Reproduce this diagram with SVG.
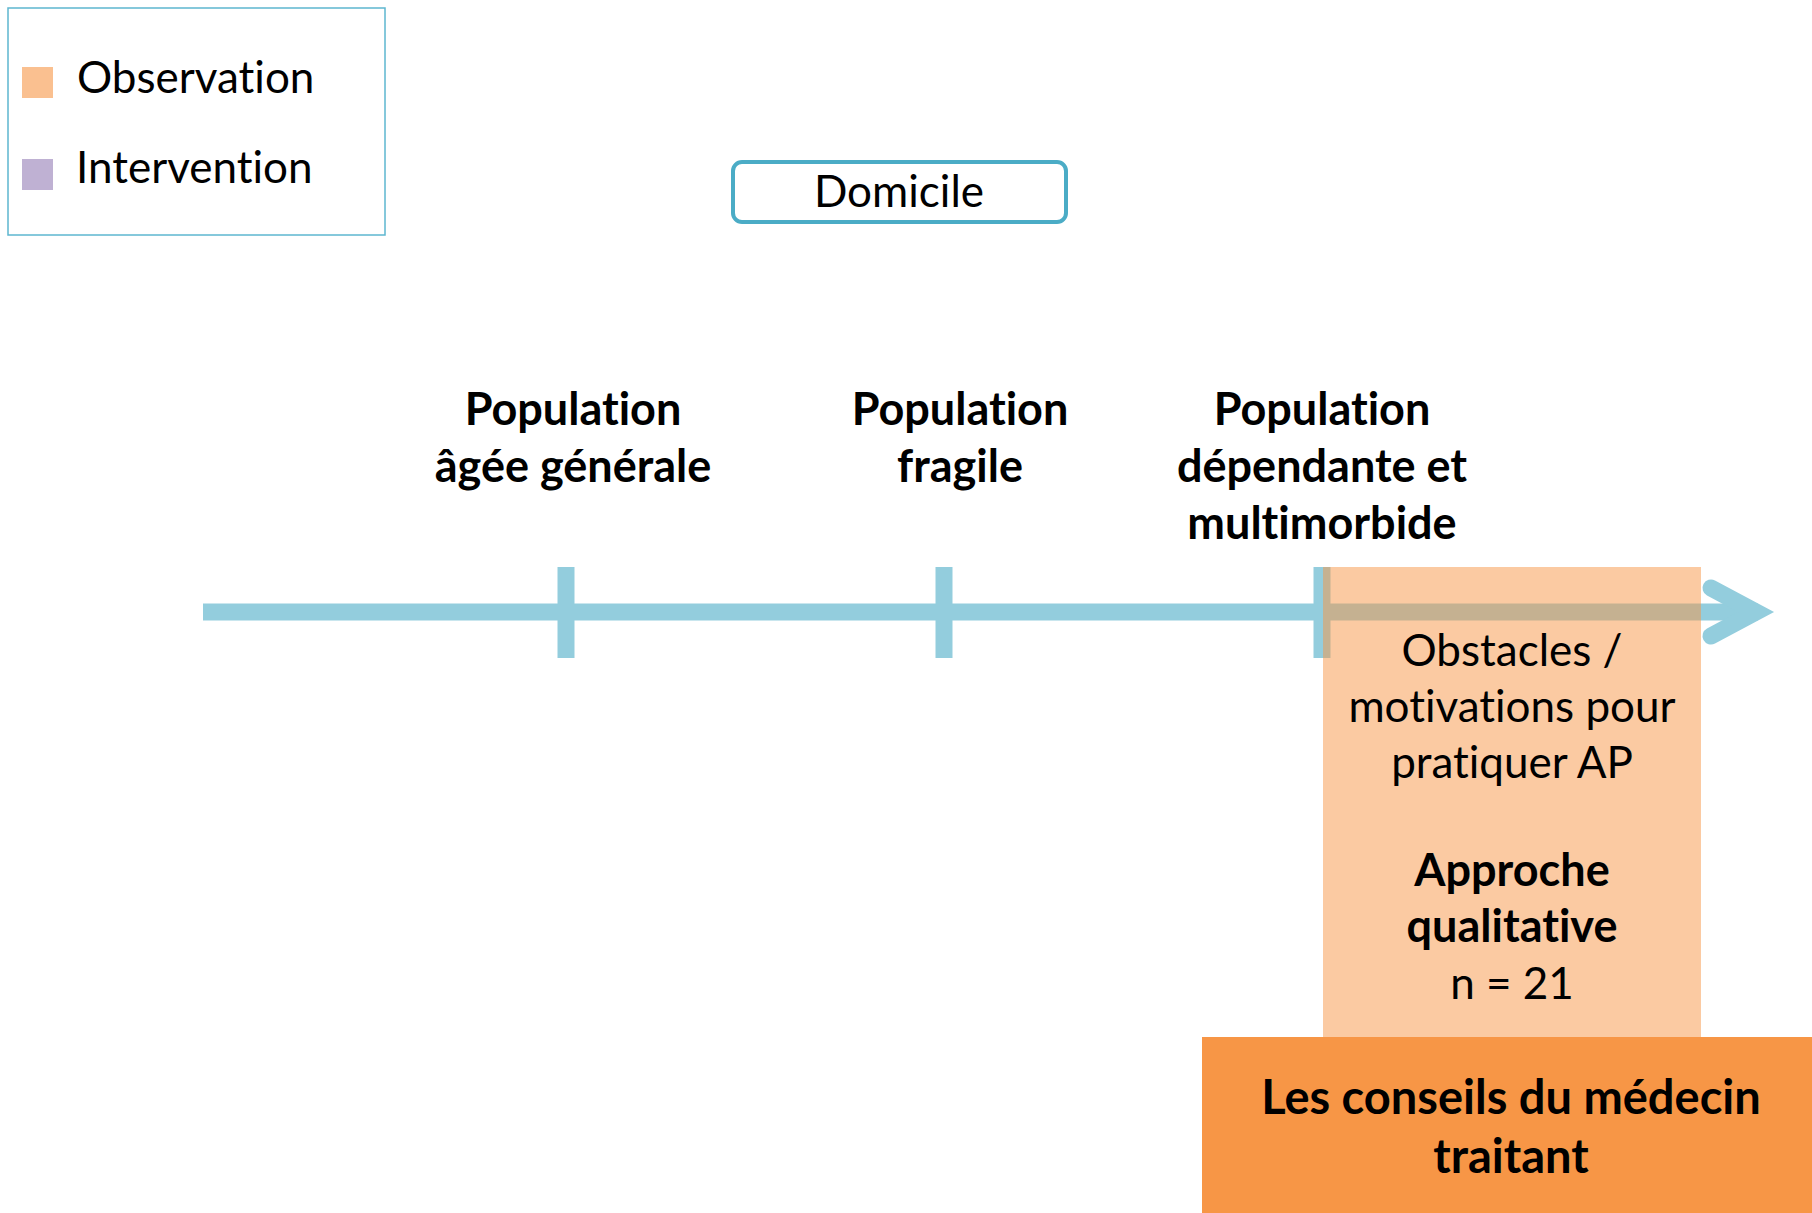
<svg xmlns="http://www.w3.org/2000/svg" width="1812" height="1213" viewBox="0 0 1812 1213">
  <style>
    text { font-family: Lato, "Liberation Sans", sans-serif; fill: #000; font-variant-ligatures: none; font-feature-settings: "liga" 0, "clig" 0; }
    .reg { font-size: 44px; font-weight: 400; }
    .bold { font-size: 45px; font-weight: 700; }
    .big { font-size: 47px; font-weight: 700; }
    .mid { text-anchor: middle; }
    .axis { stroke: #93cddd; stroke-width: 17; fill: none; }
  </style>

  <rect width="1812" height="1213" fill="#ffffff"/>

  <!-- legend -->
  <g id="legend">
    <rect x="8" y="8" width="377" height="227" fill="#ffffff" stroke="#5db7d0" stroke-width="1.5"/>
    <rect x="22" y="67" width="31" height="31" fill="#fac090"/>
    <text class="reg" x="77" y="93">Observation</text>
    <rect x="22" y="159" width="31" height="31" fill="#bfb1d3"/>
    <text class="reg" x="76" y="183">Intervention</text>
  </g>

  <!-- setting -->
  <g id="domicile">
    <rect x="733" y="162" width="333" height="60" rx="9" ry="9" fill="#ffffff" stroke="#4bacc6" stroke-width="4"/>
    <text class="reg mid" x="899" y="207">Domicile</text>
  </g>

  <!-- timeline axis with ticks and arrowhead -->
  <g id="connectors">
    <line class="axis" x1="203" y1="612" x2="1758" y2="612"/>
    <line class="axis" x1="566" y1="567" x2="566" y2="658"/>
    <line class="axis" x1="944" y1="567" x2="944" y2="658"/>
    <line class="axis" x1="1322" y1="567" x2="1322" y2="658"/>
    <polyline class="axis" points="1711,588 1756,612 1711,636" stroke-linecap="round" stroke-linejoin="miter"/>
  </g>

  <!-- population labels -->
  <g id="pop-generale">
    <text class="bold mid" x="573" y="425">Population</text>
    <text class="bold mid" x="573" y="482">âgée générale</text>
  </g>
  <g id="pop-fragile">
    <text class="bold mid" x="960" y="425">Population</text>
    <text class="bold mid" x="960" y="482">fragile</text>
  </g>
  <g id="pop-dependante">
    <text class="bold mid" x="1322" y="425">Population</text>
    <text class="bold mid" x="1322" y="482">dépendante et</text>
    <text class="bold mid" x="1322" y="539">multimorbide</text>
  </g>

  <!-- observation study -->
  <g id="observation">
    <rect x="1323" y="567" width="378" height="470" fill="#f79646" fill-opacity="0.5"/>
    <text class="reg mid" x="1512" y="666">Obstacles /</text>
    <text class="reg mid" x="1512" y="722">motivations pour</text>
    <text class="reg mid" x="1512" y="778">pratiquer AP</text>
    <text class="bold mid" x="1512" y="886">Approche</text>
    <text class="bold mid" x="1512" y="942">qualitative</text>
    <text class="reg mid" x="1512" y="999">n = 21</text>
  </g>

  <!-- theme -->
  <g id="conseils">
    <rect x="1202" y="1037" width="610" height="176" fill="#f79646"/>
    <text class="big mid" x="1511" y="1114">Les conseils du médecin</text>
    <text class="big mid" x="1511" y="1173">traitant</text>
  </g>
</svg>
